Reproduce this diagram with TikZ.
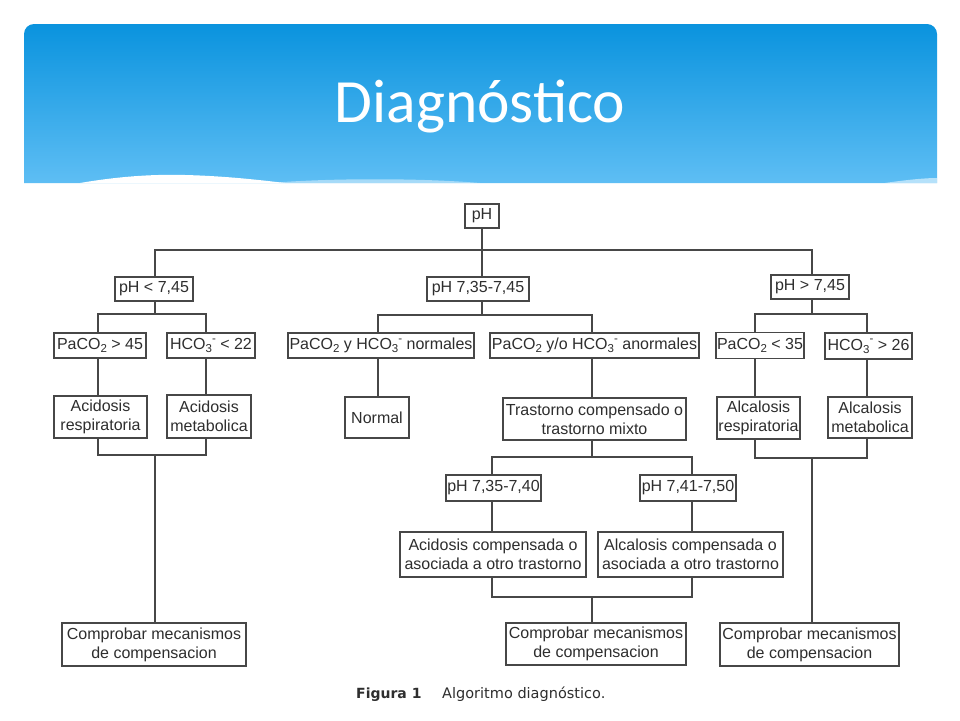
\documentclass[tikz,border=0pt]{standalone}
\usepackage{fontspec}
\setmainfont{Liberation Sans}
\newfontfamily\titlefont{Carlito}
\newfontfamily\capfont{DejaVu Sans}
\newcommand{\lsub}[1]{\raisebox{-0.35ex}{\fontsize{11.5}{10}\selectfont #1}}
\newcommand{\lsup}[1]{\raisebox{0.85ex}{\fontsize{11.5}{10}\selectfont #1}}
\definecolor{ink}{HTML}{2E2E2E}
\definecolor{lncol}{HTML}{474747}
\definecolor{hdtop}{HTML}{0A93DE}
\definecolor{hdbot}{HTML}{5EBEF4}
\begin{document}
\begin{tikzpicture}[x=1pt,y=-1pt,
  bx/.style={draw=lncol, line width=1.1pt, inner sep=0pt, align=center, text=ink,
             font=\fontsize{16}{19}\selectfont},
  ln/.style={draw=lncol, line width=1.1pt}]
\useasboundingbox (0,0) rectangle (960,720);
\fill[white] (0,0) rectangle (960,720);
% header
\shade[top color=hdtop, bottom color=hdbot]
  (24,183) [rounded corners=10pt] -- (24,24) -- (937,24) [sharp corners] -- (937,183) -- cycle;
\fill[white] (80,183) .. controls (115,177) and (150,174) .. (185,175)
  .. controls (225,176) and (260,180) .. (285,183) -- cycle;
\fill[white, opacity=0.45] (270,183) .. controls (330,178) and (420,178) .. (480,183) -- cycle;
\fill[white, opacity=0.55] (885,183) .. controls (905,180) and (925,178) .. (937,178) -- (937,183) -- cycle;
\node[anchor=base, text=white, font=\titlefont\fontsize{61.5}{62}\selectfont] (title) at (480,122) {Diagnóstico};
% x helpers
\coordinate (xL0) at (155,0); \coordinate (xL1) at (98,0); \coordinate (xL2) at (206,0);
\coordinate (xM0) at (482,0); \coordinate (xM1) at (378,0); \coordinate (xM2) at (592,0);
\coordinate (xM3) at (492,0); \coordinate (xM4) at (692,0);
\coordinate (xR0) at (812,0); \coordinate (xR1) at (755,0); \coordinate (xR2) at (867,0);
% nodes
\node[bx, minimum width=34pt, minimum height=24pt] (ph) at (482,216) {pH};
\node[bx, minimum width=78pt, minimum height=24pt] (lt) at (154,289) {pH < 7,45};
\node[bx, minimum width=102pt, minimum height=24pt] (mid) at (478,289) {pH 7,35-7,45};
\node[bx, minimum width=78pt, minimum height=24pt] (gt) at (810,287) {pH > 7,45};
\node[bx, minimum width=92pt, minimum height=25pt] (pa45) at (100,345.5) {PaCO\lsub{2} > 45};
\node[bx, minimum width=88pt, minimum height=25pt] (hc22) at (211,345.5) {HCO\lsub{3}\lsup{-} < 22};
\node[bx, minimum width=186pt, minimum height=25pt] (norm) at (381,345.5) {PaCO\lsub{2} y HCO\lsub{3}\lsup{-} normales};
\node[bx, minimum width=209pt, minimum height=25pt] (anorm) at (594.5,345.5) {PaCO\lsub{2} y/o HCO\lsub{3}\lsup{-} anormales};
\node[bx, minimum width=88pt, minimum height=26pt] (pa35) at (760,345.5) {PaCO\lsub{2} < 35};
\node[bx, minimum width=87pt, minimum height=26pt] (hc26) at (868.5,346) {HCO\lsub{3}\lsup{-} > 26};
\node[bx, minimum width=93pt, minimum height=42pt] (acr) at (100.5,417) {Acidosis\\respiratoria};
\node[bx, minimum width=84pt, minimum height=43pt] (acm) at (209,416.5) {Acidosis\\metabolica};
\node[bx, minimum width=64pt, minimum height=41pt] (normal) at (377,417.5) {Normal};
\node[bx, minimum width=183pt, minimum height=42pt] (tras) at (594.5,419) {Trastorno compensado o\\trastorno mixto};
\node[bx, minimum width=83pt, minimum height=42pt] (alr) at (758.5,418) {Alcalosis\\respiratoria};
\node[bx, minimum width=84pt, minimum height=41pt] (alm) at (870,417.5) {Alcalosis\\metabolica};
\node[bx, minimum width=95pt, minimum height=26pt] (p3540) at (493.5,488) {pH 7,35-7,40};
\node[bx, minimum width=96pt, minimum height=26pt] (p4150) at (688,488) {pH 7,41-7,50};
\node[bx, minimum width=186pt, minimum height=45pt] (acc) at (493,554.5) {Acidosis compensada o\\asociada a otro trastorno};
\node[bx, minimum width=185pt, minimum height=45pt] (alc) at (690.5,554.5) {Alcalosis compensada o\\asociada a otro trastorno};
\node[bx, minimum width=184pt, minimum height=43pt] (comp1) at (154,644.5) {Comprobar mecanismos\\de compensacion};
\node[bx, minimum width=180pt, minimum height=42pt] (comp2) at (596,644) {Comprobar mecanismos\\de compensacion};
\node[bx, minimum width=179pt, minimum height=43pt] (comp3) at (809.5,644.5) {Comprobar mecanismos\\de compensacion};
% connectors: top
\coordinate (t0) at (482,250);
\draw[ln] (ph.south) -- (ph.south |- mid.north);
\draw[ln] (lt.north -| xL0) |- (t0) -| (gt.north -| xR0);
% left
\coordinate (jL) at (155,314);
\draw[ln] (lt.south -| xL0) -- (jL);
\draw[ln] (pa45.north -| xL1) |- (jL) -| (hc22.north -| xL2);
\draw[ln] (pa45.south -| xL1) -- (acr.north -| xL1);
\draw[ln] (hc22.south -| xL2) -- (acm.north -| xL2);
\coordinate (jL2) at (155,455);
\draw[ln] (acr.south -| xL1) |- (jL2) -| (acm.south -| xL2);
\draw[ln] (jL2) -- (comp1.north -| xL0);
% middle
\coordinate (jM) at (482,315);
\draw[ln] (mid.south -| xM0) -- (jM);
\draw[ln] (norm.north -| xM1) |- (jM) -| (anorm.north -| xM2);
\draw[ln] (norm.south -| xM1) -- (normal.north -| xM1);
\draw[ln] (anorm.south -| xM2) -- (tras.north -| xM2);
\coordinate (jT) at (592,457);
\draw[ln] (tras.south -| xM2) -- (jT);
\draw[ln] (p3540.north -| xM3) |- (jT) -| (p4150.north -| xM4);
\draw[ln] (p3540.south -| xM3) -- (acc.north -| xM3);
\draw[ln] (p4150.south -| xM4) -- (alc.north -| xM4);
\coordinate (jB) at (592,597);
\draw[ln] (acc.south -| xM3) |- (jB) -| (alc.south -| xM4);
\draw[ln] (jB) -- (comp2.north -| xM2);
% right
\coordinate (jR) at (812,314);
\draw[ln] (gt.south -| xR0) -- (jR);
\draw[ln] (pa35.north -| xR1) |- (jR) -| (hc26.north -| xR2);
\draw[ln] (pa35.south -| xR1) -- (alr.north -| xR1);
\draw[ln] (hc26.south -| xR2) -- (alm.north -| xR2);
\coordinate (jR2) at (812,458);
\draw[ln] (alr.south -| xR1) |- (jR2) -| (alm.south -| xR2);
\draw[ln] (jR2) -- (comp3.north -| xR0);
% caption
\node[anchor=base west, inner sep=0pt, text=ink, font=\capfont\bfseries\fontsize{14}{16}\selectfont] (capa) at (356,698) {Figura 1};
\node[anchor=base west, inner sep=0pt, text=ink, font=\capfont\fontsize{14.5}{16}\selectfont] (capb) at (442,698) {Algoritmo diagnóstico.};
\end{tikzpicture}
\end{document}
